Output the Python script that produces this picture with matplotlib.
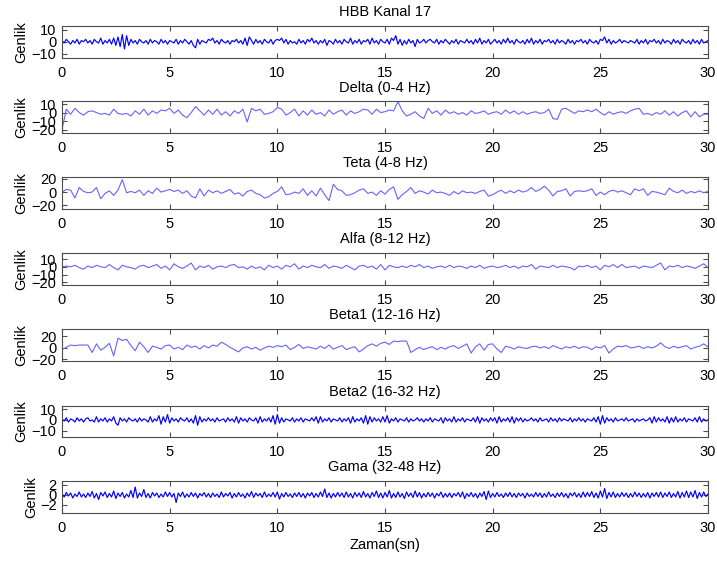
from matplotlib import pyplot as plt
import numpy as np

plt.rcParams['font.family'] = ['Liberation Sans', 'DejaVu Sans']
plt.rcParams['font.size'] = 10.5

# ham sinyal ve alt bantlar (genlik degerleri)
hbb = [1, -1, 2, 0, -2, 1, -1, 2, -2, 1,
       0, 2, -1, 1, -2, 2, 0, -1, 3, -2,
       1, -1, 2, -2, 3, -3, 4, -4, 6, -6,
       5, -3, 2, -1, 1, -2, 2, 0, -1, 1,
       -2, 2, -1, 1, 0, -2, 2, -1, 1, -2,
       1, 0, -1, 2, -2, 1, -1, 2, 0, -2,
       1, -3, -5, 2, -2, 1, 0, -1, 2, 1,
       3, -1, 1, -2, 2, 0, -1, 1, -2, 1,
       0, 2, -1, 1, -2, 3, -3, 4, 1, -2,
       2, -1, 1, -2, 2, 0, -1, 2, -2, 1,
       2, 1, 3, -1, 2, -2, 1, -1, 0, -2,
       2, -1, 1, -2, 2, 0, 3, -1, 1, -2,
       1, -1, 2, -3, 1, 0, -2, 2, -1, 1,
       -2, 2, 0, -1, 3, -2, 1, -1, 2, -2,
       1, 0, 2, -2, 3, -1, 1, -2, 2, 0,
       -1, 2, -2, 3, 1, 5, -2, 2, -3, 1,
       -2, 2, -1, 1, -4, 2, -1, 0, 2, -1,
       1, 2, 0, -1, 2, -2, 1, -1, 2, 0,
       -2, 1, -1, 2, -2, 1, 0, -1, 2, -1,
       1, -2, 2, -1, 3, -2, 1, -1, 2, -2,
       0, 2, -1, 1, -2, 2, -1, 3, -1, 1,
       -2, 2, 0, -1, 1, -2, 2, -1, 3, -2,
       1, -1, 2, -2, 1, 0, 2, -1, 1, -2,
       2, -1, 1, 0, -2, 2, -1, 1, -2, 1,
       0, 2, -1, 1, -2, 2, 0, -1, 1, -2,
       2, 1, 4, -1, 2, -2, 1, -1, 0, 2,
       -1, 1, 0, -1, 1, 0, -1, 2, -2, 1,
       -1, 2, -2, 1, 0, 2, -1, 1, -2, 2,
       -1, 1, 0, -2, 2, -1, 1, -2, 2, 0,
       -1, 1, -2, 2, -1, 1, -2, 2, -1, 0,
       1]

delta = [-20, 4, -2, 5, 0, -3, 1, 2, 0, -2,
         -1, -3, 4, -1, -2, -1, -4, 2, -2, 4,
         -3, 2, -1, 3, 2, 5, -1, 3, -3, -6,
         0, 7, 2, -3, 3, -2, 4, -3, 1, -4,
         2, -1, 4, -11, 5, 2, 4, -2, -1, 1,
         6, 4, -3, 0, 4, -4, 2, -3, 3, -2,
         0, -4, 3, -2, 1, 3, -3, 2, -1, 1,
         4, 3, -2, 4, 0, 1, 3, 2, 13, 2,
         -4, -2, 1, -4, -7, 5, -1, 2, -3, 3,
         -1, 1, -2, 0, -3, 2, -1, 0, 2, -2,
         0, 1, -2, 3, -1, 2, -2, 1, -2, 0,
         1, -1, 0, 4, -7, -8, 4, 5, 2, -1,
         2, 1, 3, 1, 4, 0, -3, 1, -2, 0,
         1, -1, 2, 4, 5, -2, -1, -3, 0, -2,
         2, -3, 1, -4, 0, 2, -5, 1, -5, -2,
         -2]

teta = [0, 4, 3, -9, 7, 1, -1, 0, 7, -10,
        -2, 2, -5, 3, 19, -1, 1, -1, 3, -5,
        2, -2, 6, 0, 2, 4, 1, 3, -2, 2,
        -6, -9, 5, -6, 3, -1, 2, -2, 1, 4,
        -3, -1, -6, 1, 3, -2, -4, -9, -7, -2,
        1, 8, -4, -3, 0, -2, 5, -5, 2, -6,
        6, -4, -13, 12, 4, 2, -5, -4, -1, 3,
        5, -2, 0, -5, 2, -3, 4, 8, -11, -4,
        1, 7, -2, 2, 0, -3, 3, -1, 0, -2,
        -5, 1, -3, 2, -1, 0, -2, 1, 3, -6,
        -4, 0, 3, -2, 2, -1, 3, 0, 2, 7,
        1, 4, 9, 3, -6, 1, 2, 5, -6, 1,
        2, 1, 2, 5, -5, 0, -4, 1, 3, 0,
        2, -1, -4, 5, 2, 5, -5, 1, 0, -2,
        -4, 6, 1, -1, 3, -2, 1, -1, 2, -1,
        1]

alfa = [0, 1, 0, 2, -1, -3, 1, -1, 2, 0,
        -1, 3, -1, -4, 2, 0, -1, -3, 1, 2,
        -1, 1, 3, -2, 1, -4, 4, 0, -2, 1,
        5, -4, 1, -1, 2, -3, 0, 1, -1, 2,
        3, -1, 0, -3, 1, -2, 0, -4, 2, -1,
        1, -3, 2, 0, 4, -3, 1, -1, 2, 0,
        -1, 3, -2, 1, 0, -2, 2, -1, -4, 1,
        2, -1, 1, -3, 3, -4, 2, 0, -1, 1,
        -1, 2, 0, 3, -1, 1, -2, 0, 1, -1,
        2, -1, 1, 0, -2, 1, -1, 2, -2, 0,
        1, -1, 0, 2, -1, 1, -2, 1, 0, 3,
        -3, 1, 0, -1, 2, -1, 1, 0, -1, -4,
        1, 0, 2, -1, 1, -4, 2, 0, 3, -1,
        3, -1, 0, 1, -2, 1, 0, -1, 2, 5,
        -4, 1, 0, 2, -1, 1, 0, -2, 1, 4,
        -1]

beta1 = [-3, 1, 5, 4, 5, 5, 5, -8, 7, -4,
         1, 8, -14, 17, 13, 15, 4, -5, 10, 2,
         -8, 3, 1, -2, 4, 5, -2, 1, -3, 5,
         1, 3, -2, 4, 0, 5, 3, 10, 6, 1,
         -3, -7, 0, 2, -2, 1, -4, 0, 3, 1,
         4, 2, 5, -3, 1, 6, -1, 2, 0, -2,
         3, -1, 5, -2, 1, 4, -3, 0, 2, -7,
         -2, 4, 7, 3, 8, 10, 6, 12, 11, 12,
         12, -8, -3, 1, -3, 0, 2, -3, 1, -2,
         2, 4, -1, 3, 7, -9, 2, 7, -4, 6,
         7, -2, -8, 3, 1, -2, 2, 0, -1, 2,
         3, 0, 2, -1, 4, 1, -2, 2, 0, 3,
         -1, 2, 1, -3, 2, 0, 4, -9, -2, 3,
         2, 4, 0, 1, 3, -1, 2, 0, 3, 9,
         2, -1, 3, 0, 2, 4, -2, 1, 3, 7,
         2]

beta2 = [1, -1, 2, -2, 1, 0, -2, 2, -1, 1,
         -2, 1, 2, -1, 0, -2, 3, -2, 1, -1,
         2, -2, 1, -1, 3, -3, -5, 2, -1, 1,
         -2, 2, 0, -1, 1, -2, 2, -1, 1, 0,
         -2, 3, -2, 1, -1, 4, -4, 3, -2, 5,
         -3, 2, -1, 1, -2, 2, 0, -1, 2, -2,
         1, -3, 4, -5, 3, -2, 1, -1, 2, -1,
         1, -2, 2, -1, 0, 1, -2, 2, -1, 1,
         -2, 3, -3, 2, -1, 1, -2, 2, 0, -1,
         2, -3, 3, -2, 1, -1, 2, -2, 4, -4,
         5, -3, 2, -2, 1, 0, -1, 2, -2, 1,
         -1, 2, -2, 1, 0, -1, 2, -1, 3, -3,
         3, -2, 1, -1, 2, -2, 1, 0, -1, 2,
         -2, 1, -1, 2, -3, 3, -2, 1, -1, 2,
         -3, 4, -4, 3, -2, 2, -1, 1, -2, 3,
         -2, 4, -3, 1, -1, 2, -2, 1, 0, -1,
         2, -2, 1, -1, 0, 2, -1, 1, -2, 1,
         -1, 2, -2, 1, 0, -1, 2, -3, 2, -1,
         1, -2, 3, -2, 1, -1, 2, -2, 1, 0,
         -1, 2, -2, 3, -3, 2, -1, 1, -2, 2,
         -1, 2, -3, 3, -2, 1, -1, 2, -2, 3,
         -3, 2, -1, 2, -2, 1, -1, 0, 2, -1,
         1, -2, 2, -1, 0, 1, -2, 2, -1, 1,
         -2, 2, -1, 1, 0, -1, 2, -2, 1, -1,
         2, -1, 1, -2, 1, 0, -1, 2, -2, 3,
         -4, 4, -3, 2, -1, 1, -2, 2, -1, 0,
         1, -1, 2, -1, 0, 1, -2, 1, -1, 0,
         1, -1, 0, 2, -3, 3, -2, 2, -1, 1,
         -2, 3, -3, 2, -2, 3, -2, 1, -1, 2,
         -2, 1, 0, -1, 2, -2, 3, -2, 1, -1,
         0]

gama = [0.3, -0.4, 0.5, -0.2, 0.4, -0.6, 0.2, -0.3, 0.6, -0.4,
        0.2, -0.5, 0.4, -0.3, 0.7, -0.6, 0.3, -0.9, 0.5, -0.2,
        0.6, -0.5, 0.3, -0.4, 0.8, -0.7, 0.4, -0.3, 0.5, -0.6,
        0.2, -0.4, 0.9, -0.5, 1.6, -0.6, 0.4, -0.3, 1.1, -0.5,
        0.3, -0.6, 0.5, -0.2, 0.4, -0.5, 0.2, -0.4, 0.6, -0.3,
        0.5, -0.4, 0.3, -1.5, 0.4, -0.3, 0.6, -0.5, 0.2, -0.4,
        0.5, -0.3, 0.4, -0.6, 0.3, -0.2, 0.5, -0.4, 0.3, -0.5,
        0.4, -0.3, 0.2, -0.5, 0.6, -0.4, 0.3, -0.2, 0.5, -0.6,
        0.3, -0.4, 0.5, -0.3, 0.2, -0.6, 0.4, -0.3, 0.7, -0.5,
        0.4, -0.2, 0.3, -0.5, 0.6, -0.4, 0.2, -0.3, 0.5, -0.4,
        0.6, -0.8, 0.3, -0.4, 0.5, -0.3, 0.2, -0.5, 0.4, -0.3,
        0.5, -0.4, 0.3, -0.6, 0.4, -0.2, 0.5, -0.5, 0.3, -0.4,
        0.6, -0.3, 1.2, -0.5, 0.4, -0.6, 0.3, -0.4, 0.5, -0.3,
        0.4, -0.5, 0.6, -0.4, 0.3, -0.6, 0.5, -0.3, 0.4, -0.5,
        0.7, -0.4, 0.3, -0.6, 0.5, -0.3, 0.8, -0.5, 0.4, -0.6,
        0.5, -0.4, 0.9, -0.6, 0.3, -0.5, 0.6, -0.4, 0.3, -0.7,
        0.6, -0.3, 0.4, -0.5, 0.8, -0.4, 0.5, -0.6, 0.3, -0.4,
        0.5, -0.3, 0.4, -0.6, 0.3, -0.2, 0.6, -0.5, 0.3, -0.4,
        0.4, -0.5, 0.3, -0.2, 0.5, -0.4, 0.6, -0.7, 0.3, -0.3,
        0.5, -0.4, 0.3, -0.6, 0.4, -0.3, 0.7, -0.9, 0.8, -0.5,
        0.3, -0.4, 0.5, -0.3, 0.2, -0.5, 0.4, -0.3, 0.5, -0.4,
        0.3, -0.5, 0.4, -0.2, 0.3, -0.6, 0.4, -0.3, 0.2, -0.4,
        0.5, -0.3, 0.4, -0.5, 0.3, -0.4, 0.6, -0.3, 0.2, -0.5,
        0.4, -0.3, 0.5, -0.4, 0.3, -0.6, 0.4, -0.2, 0.5, -0.4,
        0.3, -0.5, 0.6, -0.4, 0.5, -0.3, 0.7, -0.5, 0.4, -0.6,
        0.8, -0.4, 1.3, -0.7, 0.5, -0.4, 0.6, -0.5, 0.3, -0.4,
        0.5, -0.3, 0.4, -0.5, 0.3, -0.4, 0.6, -0.3, 0.4, -0.5,
        0.3, -0.4, 0.5, -0.6, 0.4, -0.3, 0.5, -0.4, 0.6, -0.5,
        0.4, -0.3, 0.6, -0.5, 0.3, -0.4, 0.7, -0.6, 0.5, -0.4,
        0.8, -0.5, 0.6, -0.4, 0.9, -0.7, 0.5, -0.4, 0.6, -0.3,
        0.2]

titles = ['HBB Kanal 17', 'Delta (0-4 Hz)', 'Teta (4-8 Hz)', 'Alfa (8-12 Hz)',
          'Beta1 (12-16 Hz)', 'Beta2 (16-32 Hz)', 'Gama (32-48 Hz)']
signals = [hbb, delta, teta, alfa, beta1, beta2, gama]
yticks = [[-10, 0, 10], [-20, -10, 0, 10], [-20, 0, 20], [-20, -10, 0, 10],
          [-20, 0, 20], [-10, 0, 10], [-2, 0, 2]]
ylims = [(-13, 13), (-24, 13), (-25, 23), (-23, 18), (-22, 33), (-16, 13.5), (-3.5, 2.8)]

W, H = 717, 562
fig = plt.figure(figsize=(W / 100, H / 100), dpi=100)

tops = [26, 101.5, 177, 253, 329, 405.5, 481]
for i in range(7):
    ax = fig.add_axes([62 / W, 1 - (tops[i] + 31.5) / H, 646 / W, 31.5 / H])
    y = np.array(signals[i], dtype=float)
    t = np.linspace(0, 30, len(y))
    if i in (0, 5, 6):
        # ham sinyal ve yuksek frekans bantlari: koyu mavi, sik
        ax.plot(t, y, color='blue', lw=0.85)
    else:
        ax.plot(t, y, color='#6464ff', lw=0.8)
    ax.set_xlim(0, 30)
    ax.set_ylim(*ylims[i])
    ax.set_xticks([0, 5, 10, 15, 20, 25, 30])
    ax.set_yticks(yticks[i])
    ax.tick_params(direction='in', top=True, right=True, length=3.5,
                   color='0.3', pad=4)
    ax.tick_params(axis='x', pad=6)
    for s in ax.spines.values():
        s.set_color('0.3')
        s.set_linewidth(0.8)
    ax.set_title(titles[i], fontsize=10.5, pad=7)
    ax.set_ylabel('Genlik')
    ax.yaxis.set_label_coords(-0.037 if i == 6 else -0.053, 0.5)
    if i == 6:
        ax.set_xlabel('Zaman(sn)', labelpad=2)

fig.savefig('out.png', dpi=100)
